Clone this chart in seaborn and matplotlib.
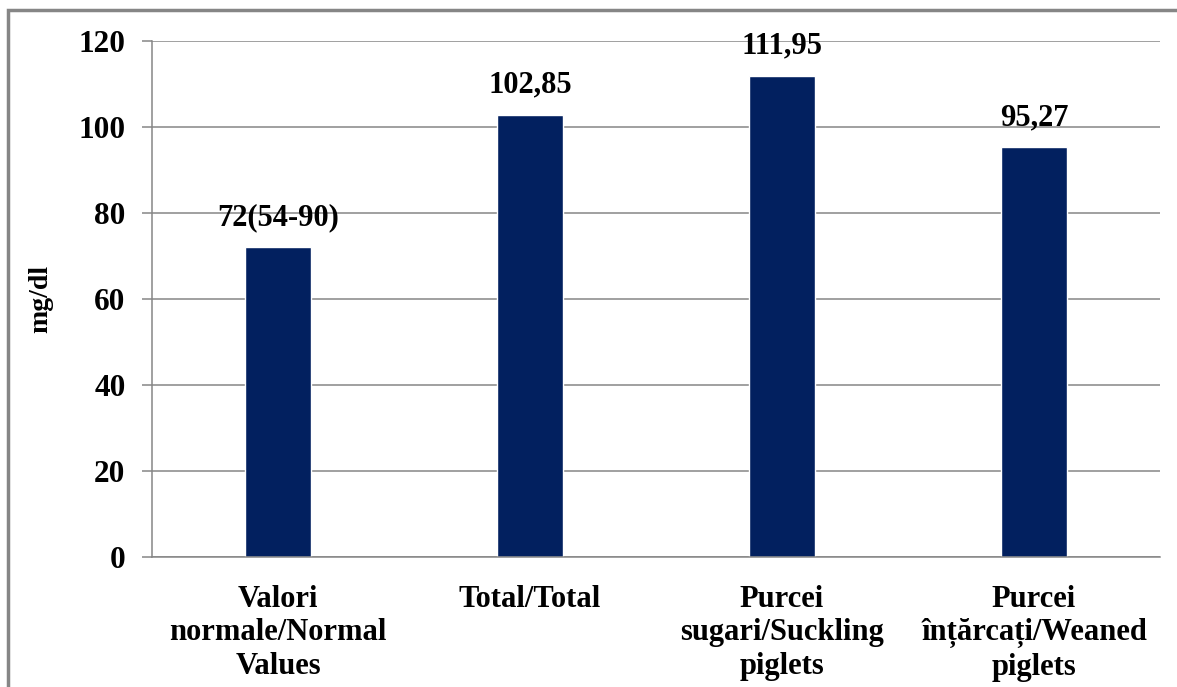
import matplotlib
matplotlib.use("Agg")
import matplotlib.pyplot as plt
import seaborn as sns
import pandas as pd
from matplotlib.patches import Rectangle

categories = ["Valori\nnormale/Normal\nValues", "Total/Total",
              "Purcei\nsugari/Suckling\npiglets", "Purcei\nînțărcați/Weaned\npiglets"]
values = [72, 102.85, 111.95, 95.27]
value_labels = ["72(54-90)", "102,85", "111,95", "95,27"]
y_ticks = [0, 20, 40, 60, 80, 100, 120]

sns.set_theme(style="white")
plt.rcParams["font.family"] = ["Liberation Serif", "DejaVu Serif"]
plt.rcParams["font.weight"] = "bold"
plt.rcParams["text.color"] = "black"
plt.rcParams["axes.labelcolor"] = "black"
plt.rcParams["xtick.color"] = "black"
plt.rcParams["ytick.color"] = "black"

df = pd.DataFrame({"group": categories, "value": values})

fig = plt.figure(figsize=(11.77, 6.87), dpi=100)
ax = fig.add_axes([0.1291, 0.1892, 0.8565, 0.7511])

sns.barplot(data=df, x="group", y="value", color="#02205F", width=0.26,
            saturation=1, ax=ax)

ax.set_ylim(0, 120)
ax.set_xlim(-0.5, len(categories) - 0.5)
ax.set_yticks(y_ticks)
ax.set_yticklabels([str(t) for t in y_ticks], fontsize=22.5, fontweight="bold")
ax.set_xticks(range(len(categories)))
ax.set_xticklabels(categories, fontsize=22, fontweight="bold", linespacing=1.2)
ax.set_xlabel("")
ax.set_ylabel("mg/dl", fontsize=20, fontweight="bold", labelpad=18)

ax.yaxis.grid(True, color="#868686", linewidth=1.1)
ax.set_axisbelow(True)
for side in ["top", "right"]:
    ax.spines[side].set_visible(False)
for side in ["left", "bottom"]:
    ax.spines[side].set_color("#868686")
    ax.spines[side].set_linewidth(1.1)

ax.tick_params(axis="y", which="major", left=True, length=7, width=1.1,
               color="#868686", labelcolor="black", pad=12)
ax.tick_params(axis="x", which="major", bottom=False, labelcolor="black", pad=14)
for lbl in ax.get_xticklabels():
    lbl.set_verticalalignment("top")

for i, (v, lab) in enumerate(zip(values, value_labels)):
    ax.annotate(lab, xy=(i, v), xytext=(0, 11), textcoords="offset points",
                ha="center", va="bottom", fontsize=22, fontweight="bold",
                color="black")

# outer chart frame
fig.patches.append(Rectangle((8 / 1177, -0.05), 1.2, 1 - 10 / 687 + 0.05,
                             transform=fig.transFigure, fill=False,
                             edgecolor="#868686", linewidth=2.5))

fig.savefig("out.png", dpi=100)
